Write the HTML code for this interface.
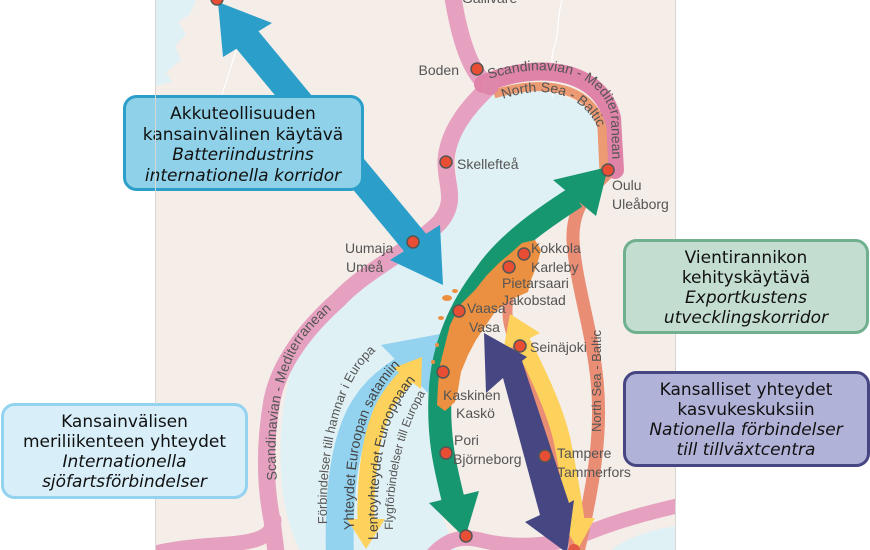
<!DOCTYPE html>
<html><head><meta charset="utf-8"><style>
html,body{margin:0;padding:0;background:#fff;}
svg{display:block;}
.c{font-family:"Liberation Sans",Arial,sans-serif;font-size:14px;fill:#555;}
.r{font-family:"Liberation Sans",Arial,sans-serif;font-size:14px;fill:#555;}
.b{font-family:"DejaVu Sans","Liberation Sans",sans-serif;font-size:17px;fill:#111;text-anchor:middle;}
.i{font-style:italic;}
</style></head><body>
<svg width="870" height="550" viewBox="0 0 870 550" xmlns="http://www.w3.org/2000/svg">
<defs>
<clipPath id="mapclip"><rect x="155" y="0" width="520" height="550"/></clipPath>
<path id="tpTop" d="M 489,79 C 545,61 599,70 611,115 L 613,190"/>
<path id="tpNSB" d="M 503,99 C 545,84 585,92 601,135"/>
<path id="tpWest" d="M 277,480 C 272,430 280,370 306,336 C 318,322 330,310 348,296"/>
<path id="tpRight" d="M 601,432 L 601,300"/>
<path id="tpF1" d="M 327,524 C 325,465 335,415 352,382 C 362,362 375,350 395,336"/>
<path id="tpF2" d="M 354,530 C 352,470 360,425 378,395 C 388,378 398,366 412,356"/>
<path id="tpF3" d="M 378,540 C 376,482 382,440 395,412 C 403,395 411,384 424,372"/>
<path id="tpF4" d="M 393,530 C 393,470 405,420 436,377"/>
</defs>

<rect width="870" height="550" fill="#fff"/>
<rect x="155" y="0" width="520" height="550" fill="#f4ede8"/>

<g clip-path="url(#mapclip)">
<!-- seas -->
<path d="M 490,92 C 530,86 575,92 595,115 C 606,130 607,155 610,176 L 596,186 C 575,198 550,218 532,240 L 515,255 C 500,263 488,278 472,293 C 458,308 450,330 444,352 C 438,375 436,400 437,430 C 438,460 444,490 440,510 C 445,525 452,540 456,550 L 300,550 C 290,530 282,505 281,470 C 279,430 283,390 298,350 C 312,318 345,290 385,270 C 415,255 438,240 450,218 C 460,195 455,172 456,150 C 458,125 470,105 490,92 Z" fill="#e0f1f6"/>
<path d="M155,0 L196,0 L190,14 L178,22 L186,34 L175,46 L181,60 L166,72 L172,82 L155,86 Z" fill="#e0f1f6"/>
<path d="M 612,550 C 625,538 650,530 676,526 L 676,550 Z" fill="#e0f1f6"/>
<path d="M 562,0 C 556,20 560,35 553,50 C 549,70 557,85 552,97" fill="none" stroke="#fff" stroke-width="1.2"/>
<path d="M 237,48 C 232,62 228,78 222,94" fill="none" stroke="#fff" stroke-width="1.2"/>

<!-- pink Scan-Med routes -->
<g fill="none" stroke="#e6a1c0" stroke-linecap="round">
<path d="M 452,-8 C 458,30 466,58 478,75 C 483,82 487,86 488,88 C 470,105 448,130 446,160 C 445,185 458,200 440,222 C 415,248 368,268 338,300 C 310,325 280,360 272,400 C 265,440 264,480 272,520 L 277,560" stroke-width="17"/>
<path d="M 274,520 C 272,540 250,543 215,545 C 185,547 165,550 148,555" stroke-width="15"/>
<path d="M 430,558 C 445,540 460,535 480,540 C 520,550 560,545 590,532 C 620,520 650,512 690,503" stroke-width="15"/>
</g>
<path d="M 483,84 C 540,60 600,70 612,118 L 615,170" fill="none" stroke="#e083a9" stroke-width="18" stroke-linecap="round"/>
<path d="M 494,94 C 547,78 592,88 602,128 L 604,172" fill="none" stroke="#eb9a72" stroke-width="9"/>
<circle cx="490" cy="86" r="9" fill="#df86ab"/>

<!-- salmon NS-Baltic lines -->
<path d="M 608,172 C 590,190 572,205 573,240 C 575,280 592,330 597,380 C 602,430 595,480 578,552" fill="none" stroke="#e98d74" stroke-width="13"/>
<path d="M 527,255 C 515,270 505,295 508,320 C 512,345 528,370 540,410 C 552,450 565,500 575,550" fill="none" stroke="#e98d74" stroke-width="10"/>

<!-- light blue sea arrow -->
<path d="M 340,560 C 338,490 345,445 360,415 C 372,392 388,380 406,368" fill="none" stroke="#93d3f0" stroke-width="28"/>
<polygon points="440,334 381,345 428,393" fill="#93d3f0"/>
<!-- yellow air arrow -->
<path d="M 366,522 C 365,470 372,430 385,405 C 395,388 403,380 409,375" fill="none" stroke="#fdd25c" stroke-width="17"/>
<polygon points="422,357 393,368 421,389" fill="#fdd25c"/>
<polygon points="347,519 385,519 366,549" fill="#fdd25c"/>

<!-- green arrow -->
<path d="M 576,197 C 540,220 505,245 485,275 C 462,305 442,345 440,395 C 438,440 446,470 453,499" fill="none" stroke="#17976f" stroke-width="23"/>
<polygon points="608,167 553,180 596,216" fill="#17976f"/>
<polygon points="429,503 479,491 465,538" fill="#17976f"/>

<!-- orange coastal region -->
<polygon points="522,243 535,240 541,250 537,265 531,280 528,292 510,300 495,312 486,325 476,340 468,355 461,372 458,390 455,402 445,411 437,405 438,385 440,365 445,345 450,325 460,305 475,290 487,275 500,262 512,252" fill="#eb9040"/>
<g fill="#eb9040">
<ellipse cx="447" cy="298" rx="5" ry="3"/><ellipse cx="441" cy="318" rx="3" ry="2"/><ellipse cx="455" cy="291" rx="3" ry="2"/><ellipse cx="437" cy="345" rx="2" ry="2"/><ellipse cx="433" cy="362" rx="2" ry="2"/>
</g>

<!-- yellow national arrow -->
<path d="M 522,342 C 540,378 555,410 562,440 C 568,470 572,492 576,520" fill="none" stroke="#fdd25c" stroke-width="17"/>
<polygon points="510,314 540,333 503,352" fill="#fdd25c"/>
<polygon points="559,518 595,518 578,549" fill="#fdd25c"/>

<!-- purple arrow -->
<polygon points="484,333 527,357 522,361 569,503 574,500 567,553 525,522 540,515 503,378 486,393" fill="#464782"/>

<!-- battery blue arrow -->
<polygon points="218,2 272,23 258.5,31.3 426,233.8 440,225 443,285 390,260 404,251.2 236.5,48.7 223,57" fill="#2b9fc9"/>

<!-- route labels -->
<text class="r"><textPath href="#tpTop">Scandinavian - Mediterranean</textPath></text>
<text class="r"><textPath href="#tpNSB">North Sea - Baltic</textPath></text>
<text class="r"><textPath href="#tpWest">Scandinavian - Mediterranean</textPath></text>
<text class="r" style="font-size:13px"><textPath href="#tpRight">North Sea - Baltic</textPath></text>
<text class="r" style="font-size:12.8px"><textPath href="#tpF1">Förbindelser till hamnar i Europa</textPath></text>
<text class="r" style="font-size:14px;fill:#444"><textPath href="#tpF2">Yhteydet Euroopan satamiin</textPath></text>
<text class="r" style="font-size:14px;fill:#444"><textPath href="#tpF3">Lentoyhteydet Eurooppaan</textPath></text>
<text class="r" style="font-size:12px"><textPath href="#tpF4">Flygförbindelser till Europa</textPath></text>

<!-- city dots -->
<g fill="#e84e33" stroke="#555" stroke-width="1.5">
<circle cx="217" cy="-1" r="6"/>
<circle cx="477" cy="69" r="6"/>
<circle cx="446" cy="162" r="6"/>
<circle cx="608" cy="170" r="6"/>
<circle cx="413" cy="242" r="6"/>
<circle cx="524" cy="254" r="6"/>
<circle cx="509" cy="267" r="6"/>
<circle cx="459" cy="311" r="6"/>
<circle cx="520" cy="346" r="6"/>
<circle cx="443" cy="372" r="6"/>
<circle cx="446" cy="453" r="6"/>
<circle cx="545" cy="456" r="6"/>
<circle cx="466" cy="536" r="6"/>
</g>
<circle cx="574" cy="550" r="6" fill="#e25a48"/>
</g>

<!-- city labels -->
<text class="c" x="462" y="3">Gällivare</text>
<text class="c" x="459" y="75" text-anchor="end">Boden</text>
<text class="c" x="457" y="169">Skellefteå</text>
<text class="c" x="612" y="190">Oulu</text>
<text class="c" x="612" y="209">Uleåborg</text>
<text class="c" x="345" y="253">Uumaja</text>
<text class="c" x="346" y="272">Umeå</text>
<text class="c" x="531" y="253">Kokkola</text>
<text class="c" x="531" y="272">Karleby</text>
<text class="c" x="502" y="288">Pietarsaari</text>
<text class="c" x="502" y="305">Jakobstad</text>
<text class="c" x="467" y="313">Vaasa</text>
<text class="c" x="469" y="332">Vasa</text>
<text class="c" x="530" y="352">Seinäjoki</text>
<text class="c" x="443" y="400">Kaskinen</text>
<text class="c" x="456" y="418">Kaskö</text>
<text class="c" x="454" y="445">Pori</text>
<text class="c" x="453" y="464">Björneborg</text>
<text class="c" x="557" y="458">Tampere</text>
<text class="c" x="557" y="477">Tammerfors</text>

<!-- boxes -->
<rect x="124.5" y="96.5" width="238" height="93" rx="12" fill="#8fd1e8" stroke="#2b9fc9" stroke-width="3"/>
<text class="b" x="243" y="119">Akkuteollisuuden</text>
<text class="b" x="243" y="140">kansainvälinen käytävä</text>
<text class="b i" x="243" y="160">Batteriindustrins</text>
<text class="b i" x="243" y="181">internationella korridor</text>

<rect x="624.5" y="240.5" width="243" height="92" rx="12" fill="#c3ddd0" stroke="#70b08f" stroke-width="3"/>
<text class="b" x="746" y="263">Vientirannikon</text>
<text class="b" x="746" y="283">kehityskäytävä</text>
<text class="b i" x="746" y="303">Exportkustens</text>
<text class="b i" x="746" y="323">utvecklingskorridor</text>

<rect x="624.5" y="372.5" width="244" height="93" rx="12" fill="#b1b2d8" stroke="#464782" stroke-width="3"/>
<text class="b" x="746" y="395">Kansalliset yhteydet</text>
<text class="b" x="746" y="415">kasvukeskuksiin</text>
<text class="b i" x="746" y="435">Nationella förbindelser</text>
<text class="b i" x="746" y="455">till tillväxtcentra</text>

<rect x="2.5" y="404.5" width="244" height="93" rx="12" fill="#d8eef9" stroke="#93d3f0" stroke-width="3"/>
<text class="b" x="124.5" y="427">Kansainvälisen</text>
<text class="b" x="124.5" y="447">meriliikenteen yhteydet</text>
<text class="b i" x="124.5" y="467">Internationella</text>
<text class="b i" x="124.5" y="487">sjöfartsförbindelser</text>

<line x1="155.5" y1="0" x2="155.5" y2="404" stroke="#d6d6d6" stroke-width="1"/>
<line x1="155.5" y1="499" x2="155.5" y2="550" stroke="#d6d6d6" stroke-width="1"/>
<line x1="675.5" y1="0" x2="675.5" y2="239" stroke="#d6d6d6" stroke-width="1"/>
<line x1="675.5" y1="334" x2="675.5" y2="371" stroke="#d6d6d6" stroke-width="1"/>
<line x1="675.5" y1="467" x2="675.5" y2="550" stroke="#d6d6d6" stroke-width="1"/>
</svg>
</body></html>
